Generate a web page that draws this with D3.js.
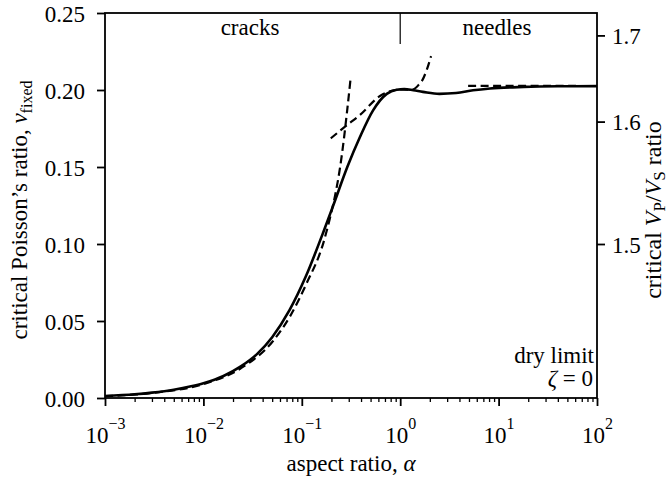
<!DOCTYPE html>
<html>
<head>
<meta charset="utf-8">
<script src="https://cdn.jsdelivr.net/npm/d3@7"></script>
<style>
  body { margin: 0; background: #fff; }
  svg { display: block; }
  text { font-family: "Liberation Serif", "DejaVu Serif", serif; fill: #000; }
</style>
</head>
<body>
<svg id="chart" width="672" height="480"></svg>
<script>
// full solution (solid)
var alphaSolid = [0.001, 0.002, 0.003, 0.005, 0.0075, 0.01, 0.016, 0.024, 0.035, 0.05, 0.075, 0.11, 0.165, 0.21, 0.29, 0.39, 0.53, 0.73, 0.92, 1.1, 1.36, 1.7, 2.5, 3.7, 5.5, 8.2, 18, 40, 100];
var nuSolid = [0.0013, 0.0024, 0.0035, 0.0054, 0.0076, 0.0096, 0.0143, 0.0205, 0.0285, 0.0395, 0.0570, 0.0790, 0.1075, 0.1255, 0.1500, 0.1695, 0.1868, 0.1975, 0.2002, 0.2006, 0.1998, 0.1988, 0.1975, 0.1980, 0.1998, 0.2010, 0.2020, 0.2024, 0.2025];

// crack expansions (dashed)
var alphaCrackLow = [0.001, 0.003, 0.01, 0.024, 0.0513, 0.0759, 0.112, 0.1654, 0.1934, 0.2175, 0.2444, 0.2685, 0.2879, 0.3145];
var nuCrackLow = [0.0012, 0.0033, 0.0090, 0.0193, 0.0372, 0.0530, 0.0745, 0.1006, 0.1169, 0.1312, 0.1494, 0.1688, 0.1857, 0.2085];
var alphaCrackHigh = [0.197, 0.275, 0.39, 0.623, 0.885, 1.0];
var nuCrackHigh = [0.1686, 0.1762, 0.1838, 0.1961, 0.2000, 0.2004];

// needle expansions (dashed)
var alphaNeedleLow = [1.0, 1.2, 1.36, 1.55, 1.66, 1.86, 2.06];
var nuNeedleLow = [0.2004, 0.2002, 0.2005, 0.2035, 0.2058, 0.2130, 0.2220];
var alphaNeedleHigh = [4.9, 100];
var nuNeedleHigh = [0.2027, 0.2026];

var xMajor = [-3, -2, -1, 0, 1, 2];
var yTicks = [0, 0.05, 0.10, 0.15, 0.20, 0.25];
var ratioTicks = [1.5, 1.6, 1.7];

var svg = d3.select('#chart');
var mLeft = 105, mRight = 597, mTop = 13, mBottom = 398;
var fs = 23;

var x = d3.scaleLog().domain([1e-3, 1e2]).range([mLeft, mRight]);
var y = d3.scaleLinear().domain([0, 0.25]).range([mBottom, mTop]);

var nuFromRatio = function (r) {
	var r2 = r * r;
	return (r2 - 2) / (2 * (r2 - 1));
};

var line = d3.line()
	.x(function (d) { return x(d[0]); })
	.y(function (d) { return y(d[1]); })
	.curve(d3.curveMonotoneX);

var zip = function (a, b) {
	return a.map(function (v, i) { return [v, b[i]]; });
};

var plot = svg.append('g');

// dashed approximations
[[alphaCrackLow, nuCrackLow], [alphaCrackHigh, nuCrackHigh],
 [alphaNeedleLow, nuNeedleLow], [alphaNeedleHigh, nuNeedleHigh]].forEach(function (s) {
	plot.append('path')
		.attr('d', line(zip(s[0], s[1])))
		.attr('fill', 'none')
		.attr('stroke', '#000')
		.attr('stroke-width', 2.2)
		.attr('stroke-dasharray', '8,4.5');
});

plot.append('path')
	.attr('d', line(zip(alphaSolid, nuSolid)))
	.attr('fill', 'none')
	.attr('stroke', '#000')
	.attr('stroke-width', 2.6);

// minor x ticks
var minor = [];
xMajor.slice(0, -1).forEach(function (p) {
	for (var m = 2; m <= 9; m++) minor.push(m * Math.pow(10, p));
});

svg.append('g')
	.attr('transform', 'translate(0,' + mBottom + ')')
	.call(d3.axisBottom(x).tickValues(minor).tickSize(4).tickFormat(''))
	.call(function (g) { g.select('.domain').remove(); })
	.selectAll('line').attr('stroke-width', 1.3);

var xAxis = svg.append('g')
	.attr('transform', 'translate(0,' + mBottom + ')')
	.call(d3.axisBottom(x)
		.tickValues(xMajor.map(function (p) { return Math.pow(10, p); }))
		.tickSize(8).tickFormat(''));
xAxis.select('.domain').remove();
xAxis.selectAll('line').attr('stroke-width', 1.8);
xAxis.selectAll('.tick').each(function (d, i) {
	var t = d3.select(this).append('text')
		.attr('y', 45)
		.attr('text-anchor', 'middle')
		.attr('font-size', fs);
	t.append('tspan').text('10');
	t.append('tspan').attr('dy', -14).attr('font-size', 16)
		.text(xMajor[i] < 0 ? '\u2212' + (-xMajor[i]) : String(xMajor[i]));
});

var yAxis = svg.append('g')
	.attr('transform', 'translate(' + mLeft + ',0)')
	.call(d3.axisLeft(y).tickValues(yTicks).tickSize(8).tickPadding(12)
		.tickFormat(d3.format('.2f')));
yAxis.select('.domain').remove();
yAxis.selectAll('line').attr('stroke-width', 1.8);
yAxis.selectAll('text').attr('font-size', fs).attr('dy', '0.35em');

var rAxis = svg.append('g')
	.attr('transform', 'translate(' + mRight + ',0)')
	.call(d3.axisRight(y).tickValues(ratioTicks.map(nuFromRatio)).tickSize(8).tickPadding(7)
		.tickFormat(function (d, i) { return ratioTicks[i].toFixed(1); }));
rAxis.select('.domain').remove();
rAxis.selectAll('line').attr('stroke-width', 1.8);
rAxis.selectAll('text').attr('font-size', fs).attr('dy', '0.35em');

// frame
svg.append('rect')
	.attr('x', mLeft).attr('y', mTop)
	.attr('width', mRight - mLeft).attr('height', mBottom - mTop)
	.attr('fill', 'none').attr('stroke', '#000').attr('stroke-width', 1.8);

// crack / needle divider
svg.append('line')
	.attr('x1', x(1)).attr('x2', x(1))
	.attr('y1', mTop).attr('y2', 44)
	.attr('stroke', '#000').attr('stroke-width', 1.2);

svg.append('text').attr('x', 250).attr('y', 35)
	.attr('text-anchor', 'middle').attr('font-size', fs).text('cracks');
svg.append('text').attr('x', 497).attr('y', 35)
	.attr('text-anchor', 'middle').attr('font-size', fs).text('needles');

svg.append('text').attr('x', 594).attr('y', 363)
	.attr('text-anchor', 'end').attr('font-size', fs).text('dry limit');
var z = svg.append('text').attr('x', 593).attr('y', 386)
	.attr('text-anchor', 'end').attr('font-size', fs);
z.append('tspan').attr('font-style', 'italic').text('\u03b6');
z.append('tspan').text(' = 0');

// axis titles
var xt = svg.append('text').attr('x', 351).attr('y', 471)
	.attr('text-anchor', 'middle').attr('font-size', fs);
xt.append('tspan').text('aspect ratio, ');
xt.append('tspan').attr('font-style', 'italic').text('\u03b1');

var yt = svg.append('text')
	.attr('transform', 'translate(27,210) rotate(-90)')
	.attr('text-anchor', 'middle').attr('font-size', fs);
yt.append('tspan').text('critical Poisson\u2019s ratio, ');
yt.append('tspan').attr('font-style', 'italic').text('\u03bd');
yt.append('tspan').attr('font-size', 16).attr('dy', 5).text('fixed');

var rt = svg.append('text')
	.attr('transform', 'translate(661,210) rotate(-90)')
	.attr('text-anchor', 'middle').attr('font-size', 24);
rt.append('tspan').text('critical ');
rt.append('tspan').attr('font-style', 'italic').text('V');
rt.append('tspan').attr('font-size', 17).attr('dy', 4).text('P');
rt.append('tspan').attr('dy', -4).text('/');
rt.append('tspan').attr('font-style', 'italic').text('V');
rt.append('tspan').attr('font-size', 17).attr('dy', 4).text('S');
rt.append('tspan').attr('dy', -4).text(' ratio');
</script>
</body>
</html>
